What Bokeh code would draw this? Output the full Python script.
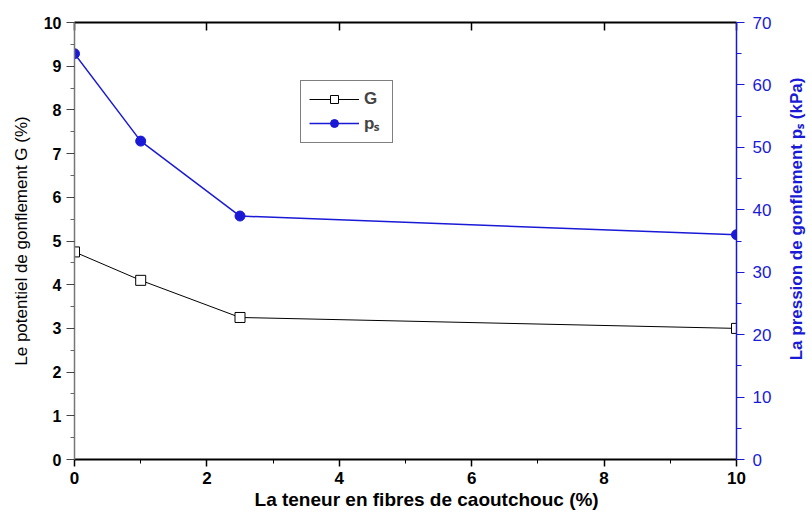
import math
from bokeh.plotting import figure
from bokeh.models import LinearAxis, Range1d, Legend, LegendItem, FixedTicker
from bokeh.embed import file_html
from bokeh.resources import INLINE

fibre = [0, 1, 2.5, 10]
G = [4.75, 4.1, 3.25, 3.0]
ps = [65, 51, 39, 36]

x_ticks = [0, 2, 4, 6, 8, 10]
yl_ticks = list(range(0, 11))
yr_ticks = list(range(0, 71, 10))

FONT = "Liberation Sans"
BLUE = "#1a1ad6"
NBSP = "\u00a0"

p = figure(width=810, height=508, output_backend="svg", toolbar_location=None,
           x_range=Range1d(0, 10), y_range=Range1d(0, 10),
           min_border_left=74, min_border_right=74, min_border_top=22, min_border_bottom=49)
p.frame_width = 662
p.frame_height = 437
p.grid.visible = False
p.outline_line_color = None
p.background_fill_color = "white"

p.extra_y_ranges = {"ps": Range1d(0, 70)}

# bottom axis
xa = p.xaxis[0]
xa.ticker = FixedTicker(ticks=x_ticks, minor_ticks=[1, 3, 5, 7, 9])
xa.axis_label = NBSP * 8 + "La teneur en fibres de caoutchouc (%)"
xa.axis_label_text_font = FONT
xa.axis_label_text_font_style = "bold"
xa.axis_label_text_font_size = "19px"
xa.axis_label_text_color = "black"
xa.axis_label_standoff = 2
xa.major_label_text_font = FONT
xa.major_label_text_font_style = "bold"
xa.major_label_text_font_size = "17px"
xa.major_label_text_color = "black"
xa.axis_line_width = 2
xa.major_tick_out = 7
xa.major_tick_in = 0
xa.minor_tick_out = 4
xa.minor_tick_in = 0
xa.major_tick_line_width = 1.5

# left axis
ya = p.yaxis[0]
ya.ticker = FixedTicker(ticks=yl_ticks, minor_ticks=[v + 0.5 for v in range(0, 10)])
ya.axis_label = "Le potentiel de gonflement G (%)"
ya.axis_label_text_font = FONT
ya.axis_label_text_font_style = "normal"
ya.axis_label_text_font_size = "17px"
ya.axis_label_text_color = "black"
ya.axis_label_standoff = 10
ya.major_label_text_font = FONT
ya.major_label_text_font_style = "bold"
ya.major_label_text_font_size = "16px"
ya.major_label_text_color = "black"
ya.axis_line_color = "#777777"
ya.axis_line_width = 1.5
ya.major_tick_out = 8
ya.major_tick_in = 0
ya.minor_tick_out = 4
ya.minor_tick_in = 0
ya.major_tick_line_color = "#444444"
ya.minor_tick_line_color = "#666666"

# right axis
ra = LinearAxis(y_range_name="ps", ticker=FixedTicker(ticks=yr_ticks, minor_ticks=list(range(5, 70, 10))))
ra.axis_label = NBSP * 21 + "La pression de gonflement pₛ (kPa)"
ra.axis_label_text_font = FONT
ra.axis_label_text_font_style = "bold"
ra.axis_label_text_font_size = "17px"
ra.axis_label_text_color = BLUE
ra.axis_label_standoff = 22
ra.axis_label_orientation = math.pi / 2
ra.axis_label_align = "start"
ra.major_label_text_font = FONT
ra.major_label_text_font_size = "17px"
ra.major_label_text_color = BLUE
ra.major_label_standoff = 8
ra.axis_line_color = BLUE
ra.axis_line_width = 1.5
ra.major_tick_line_color = BLUE
ra.minor_tick_line_color = BLUE
ra.major_tick_out = 8
ra.major_tick_in = 0
ra.minor_tick_out = 5
ra.minor_tick_in = 0
p.add_layout(ra, "right")

# top axis (frame line with inward ticks)
ta = LinearAxis(ticker=FixedTicker(ticks=x_ticks, minor_ticks=[]))
ta.major_label_text_font_size = "0px"
ta.major_label_text_alpha = 0
ta.axis_line_width = 2
ta.major_tick_in = 8
ta.major_tick_out = 0
ta.major_tick_line_width = 1.5
p.add_layout(ta, "above")

lg = p.line(fibre, G, line_color="black", line_width=1)
sg = p.scatter(fibre, G, marker="square", size=10, fill_color="white", line_color="black", line_width=1)
lp = p.line(fibre, ps, line_color=BLUE, line_width=1.5, y_range_name="ps")
sp = p.scatter(fibre, ps, marker="circle", size=10, fill_color=BLUE, line_color=BLUE, y_range_name="ps")

legend = Legend(items=[LegendItem(label="G", renderers=[lg, sg]),
                       LegendItem(label="pₛ", renderers=[lp, sp])],
                location=(226, 316))
legend.label_text_font = FONT
legend.label_text_font_style = "bold"
legend.label_text_font_size = "17px"
legend.border_line_color = "black"
legend.border_line_width = 1.5
legend.glyph_width = 50
legend.padding = 8
legend.spacing = 2
legend.margin = 0
legend.background_fill_alpha = 1
p.add_layout(legend, "center")

open("out.html", "w").write(file_html(p, INLINE))
